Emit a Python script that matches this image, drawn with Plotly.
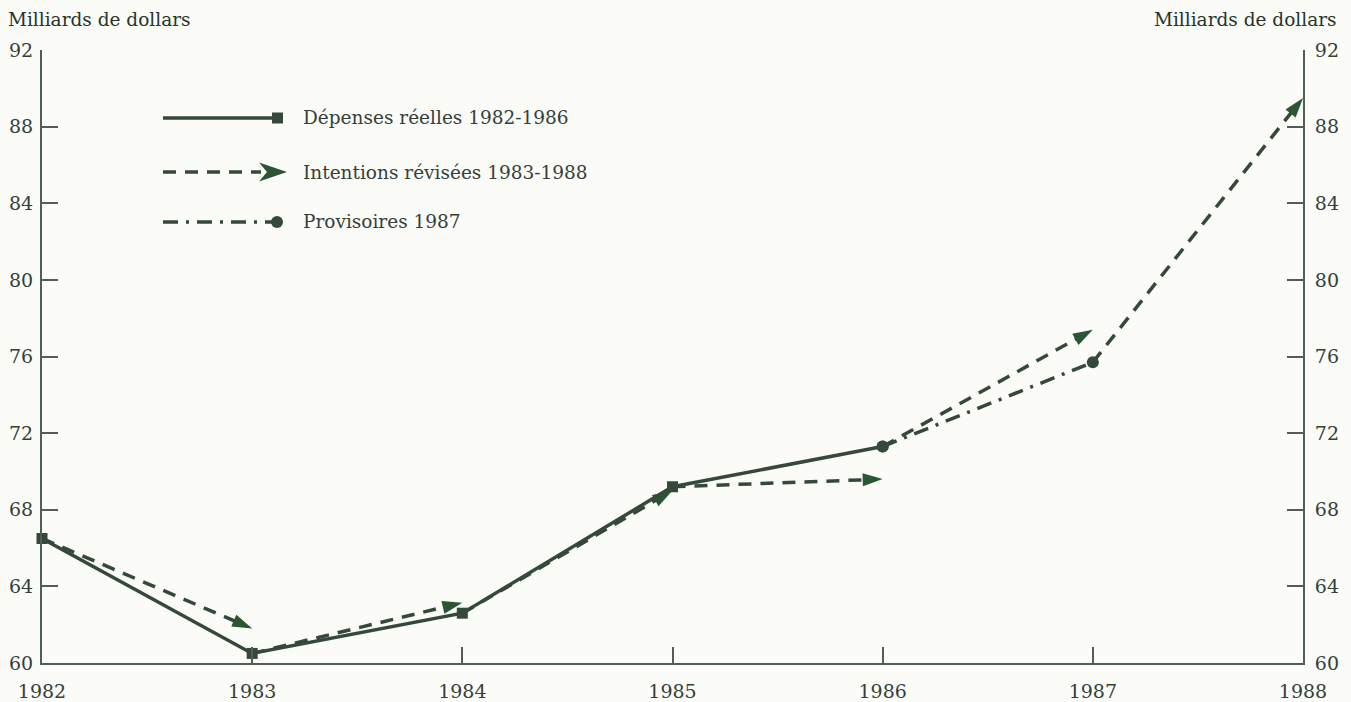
import plotly.graph_objects as go

# Dépenses réelles (milliards de dollars)
actual_years = [1982, 1983, 1984, 1985, 1986]
actual_values = [66.5, 60.5, 62.6, 69.2, 71.3]

# Intentions révisées : chaque flèche part du niveau de l'année précédente
intent_years = [1983, 1984, 1985, 1986, 1987, 1988]
intent_values = [61.8, 63.15, 69.0, 69.6, 77.4, 89.5]
intent_start = [66.5, 60.5, 62.6, 69.2, 71.3, 75.7]

# Provisoires 1987
prov_years = [1986, 1987]
prov_values = [71.3, 75.7]

year_ticks = [1982, 1983, 1984, 1985, 1986, 1987, 1988]
value_ticks = [60, 64, 68, 72, 76, 80, 84, 88, 92]

LINE = "#35493a"
ARROW = "#2b5533"
AXIS = "#4f5f53"
TEXT = "#33403a"
BG = "#fbfcf8"
FONT = "DejaVu Serif"

W, H = 1351, 702
ML, MR, MT, MB = 42, 48, 50, 39
PW, PH = W - ML - MR, H - MT - MB


def px(x):
    return (x - ML) / PW


def py(y):
    return (H - MB - y) / PH


fig = go.Figure()

# intentions révisées : segments tiretés terminés par une flèche
for yr, val, start in zip(intent_years, intent_values, intent_start):
    fig.add_trace(go.Scatter(
        x=[yr - 1, yr], y=[start, val],
        mode="lines+markers",
        line=dict(color=LINE, width=3.5, dash="13px,9px"),
        marker=dict(symbol=["circle", "arrow"], size=[0, 21], color=ARROW,
                    opacity=1, angleref="previous", line=dict(width=0)),
        cliponaxis=False, showlegend=False, hoverinfo="skip",
    ))

# provisoires 1987 : tiret-point
fig.add_trace(go.Scatter(
    x=prov_years, y=prov_values, mode="lines+markers",
    line=dict(color=LINE, width=3.5, dash="15px,8px,3px,8px"),
    marker=dict(symbol="circle", size=12, color=LINE, opacity=1),
    cliponaxis=False, showlegend=False, hoverinfo="skip",
))

# dépenses réelles : trait plein
fig.add_trace(go.Scatter(
    x=actual_years, y=actual_values, mode="lines+markers",
    line=dict(color=LINE, width=3.5),
    marker=dict(symbol=["square"] * 4 + ["circle"], size=[11, 11, 11, 11, 12],
                color=LINE, opacity=1, line=dict(width=0)),
    cliponaxis=False, showlegend=False, hoverinfo="skip",
))

# axe de droite (mêmes valeurs)
fig.add_trace(go.Scatter(
    x=actual_years, y=actual_values, yaxis="y2", mode="lines",
    line=dict(width=0), opacity=0, showlegend=False, hoverinfo="skip",
))

# légende dessinée
shapes = []
legend_rows = [118, 172, 222]
x0, x1 = 163, 283
shapes.append(dict(type="line", xref="paper", yref="paper",
                   x0=px(x0), x1=px(x1 - 4), y0=py(legend_rows[0]), y1=py(legend_rows[0]),
                   line=dict(color=LINE, width=3.5)))
shapes.append(dict(type="rect", xref="paper", yref="paper",
                   x0=px(x1 - 11), x1=px(x1), y0=py(legend_rows[0] - 5.5), y1=py(legend_rows[0] + 5.5),
                   fillcolor=LINE, line=dict(width=0)))
shapes.append(dict(type="line", xref="paper", yref="paper",
                   x0=px(x0), x1=px(x1 - 22), y0=py(legend_rows[1]), y1=py(legend_rows[1]),
                   line=dict(color=LINE, width=3.5, dash="13px,9px")))
ax_tip = x1 + 4
shapes.append(dict(type="path", xref="paper", yref="paper",
                   path=(f"M {px(ax_tip)},{py(legend_rows[1])} "
                         f"L {px(ax_tip - 28)},{py(legend_rows[1] - 9.5)} "
                         f"L {px(ax_tip - 20)},{py(legend_rows[1])} "
                         f"L {px(ax_tip - 28)},{py(legend_rows[1] + 9.5)} Z"),
                   fillcolor=ARROW, line=dict(width=0)))
shapes.append(dict(type="line", xref="paper", yref="paper",
                   x0=px(x0), x1=px(x1 - 6), y0=py(legend_rows[2]), y1=py(legend_rows[2]),
                   line=dict(color=LINE, width=3.5, dash="15px,8px,3px,8px")))
shapes.append(dict(type="circle", xref="paper", yref="paper",
                   x0=px(x1 - 12), x1=px(x1), y0=py(legend_rows[2] - 6), y1=py(legend_rows[2] + 6),
                   fillcolor=LINE, line=dict(width=0)))

legend_labels = ["Dépenses réelles 1982-1986",
                 "Intentions révisées 1983-1988",
                 "Provisoires 1987"]
annotations = []
for row, label in zip(legend_rows, legend_labels):
    annotations.append(dict(x=px(301), y=py(row), xref="paper", yref="paper",
                            text=label, showarrow=False, xanchor="left", yanchor="middle",
                            font=dict(family=FONT, size=18.5, color=TEXT)))

annotations.append(dict(x=px(6), y=py(20), xref="paper", yref="paper",
                        text="Milliards de dollars", showarrow=False,
                        xanchor="left", yanchor="middle",
                        font=dict(family=FONT, size=18.5, color="#27332b")))
annotations.append(dict(x=px(1339), y=py(20), xref="paper", yref="paper",
                        text="Milliards de dollars", showarrow=False,
                        xanchor="right", yanchor="middle",
                        font=dict(family=FONT, size=18.5, color="#27332b")))

axis_common = dict(
    showgrid=False, zeroline=False, showline=True, linecolor=AXIS, linewidth=2,
    ticks="inside", tickcolor=AXIS, tickwidth=2, ticklen=16, automargin=False,
    tickfont=dict(family=FONT, size=19, color=TEXT),
)

fig.update_layout(
    width=W, height=H,
    margin=dict(l=ML, r=MR, t=MT, b=MB, autoexpand=False),
    paper_bgcolor=BG, plot_bgcolor=BG,
    xaxis=dict(range=[1982, 1988], tickvals=year_ticks,
               ticktext=[str(y) for y in year_ticks], ticklabelstandoff=10,
               **axis_common),
    yaxis=dict(range=[60, 92], tickvals=value_ticks, side="left",
               ticklabelstandoff=3, **axis_common),
    yaxis2=dict(range=[60, 92], tickvals=value_ticks, side="right",
                overlaying="y", ticklabelstandoff=6, **axis_common),
    shapes=shapes,
    annotations=annotations,
    showlegend=False,
)

fig.write_html("out.html")
